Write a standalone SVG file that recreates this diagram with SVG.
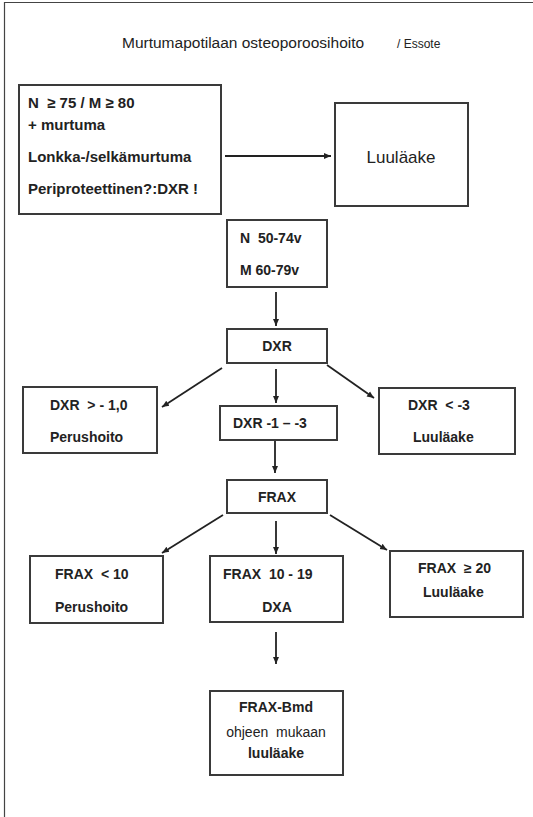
<svg xmlns="http://www.w3.org/2000/svg" width="533" height="817" viewBox="0 0 533 817">
<defs>
<marker id="ah" markerUnits="userSpaceOnUse" markerWidth="8" markerHeight="8" viewBox="0 0 8 8" refX="7" refY="4" orient="auto">
<path d="M0,1 L7,4 L0,7 Z" fill="#222"/>
</marker>
<style>
.box{fill:#fff;stroke:#3a3a3a;stroke-width:2}
.t{font-family:"Liberation Sans",Arial,sans-serif;font-size:14px;font-weight:bold;fill:#222;white-space:pre}
.n{font-weight:normal}
.c{text-anchor:middle}
.ln{stroke:#222;stroke-width:1.8;fill:none;marker-end:url(#ah)}
</style>
</defs>
<rect width="533" height="817" fill="#fff"/>
<path d="M4.5,817 V2.5 H533" fill="none" stroke="#444" stroke-width="1.2"/>
<g id="title">
<text class="t n" x="122" y="48" style="font-size:15.5px">Murtumapotilaan osteoporoosihoito</text>
<text class="t n" x="397" y="48" style="font-size:12px">/ Essote</text>
</g>
<g id="connectors">
<line class="ln" x1="225" y1="156" x2="331" y2="156"/>
<line class="ln" x1="276" y1="292" x2="276" y2="326"/>
<line class="ln" x1="222" y1="368" x2="162" y2="407"/>
<line class="ln" x1="276" y1="369" x2="276" y2="403"/>
<line class="ln" x1="327" y1="365" x2="374" y2="398"/>
<line class="ln" x1="275" y1="440" x2="275" y2="473"/>
<line class="ln" x1="223" y1="515" x2="162" y2="553"/>
<line class="ln" x1="276" y1="521" x2="276" y2="554"/>
<line class="ln" x1="330" y1="515" x2="387" y2="550"/>
<line class="ln" x1="276" y1="632" x2="276" y2="664"/>
</g>
<g id="n1">
<rect class="box" x="19" y="85" width="202" height="129"/>
<text class="t" x="28" y="108" style="font-size:15px">N  ≥ 75 / M ≥ 80</text>
<text class="t" x="28" y="130" style="font-size:15px">+ murtuma</text>
<text class="t" x="28" y="162" style="font-size:15px">Lonkka-/selkämurtuma</text>
<text class="t" x="28" y="194" style="font-size:15px">Periproteettinen?:DXR !</text>
</g>
<g id="n2">
<rect class="box" x="335" y="103" width="133" height="103"/>
<text class="t n c" x="401" y="163" style="font-size:17px">Luuläake</text>
</g>
<g id="n3">
<rect class="box" x="227" y="220" width="100" height="67"/>
<text class="t" x="240" y="243">N  50-74v</text>
<text class="t" x="240" y="275">M 60-79v</text>
</g>
<g id="n4">
<rect class="box" x="227" y="329" width="100" height="34"/>
<text class="t c" x="277" y="351">DXR</text>
</g>
<g id="n5">
<rect class="box" x="23" y="387" width="134" height="66"/>
<text class="t" x="50" y="410">DXR  &gt; - 1,0</text>
<text class="t" x="50" y="442">Perushoito</text>
</g>
<g id="n6">
<rect class="box" x="220" y="406" width="117" height="34"/>
<text class="t" x="233" y="428">DXR -1 – -3</text>
</g>
<g id="n7">
<rect class="box" x="379" y="388" width="136" height="66"/>
<text class="t" x="408" y="410">DXR  &lt; -3</text>
<text class="t" x="413" y="442">Luuläake</text>
</g>
<g id="n8">
<rect class="box" x="227" y="480" width="100" height="33"/>
<text class="t c" x="277" y="502">FRAX</text>
</g>
<g id="n9">
<rect class="box" x="30" y="556" width="133" height="67"/>
<text class="t" x="55" y="579">FRAX  &lt; 10</text>
<text class="t" x="55" y="612">Perushoito</text>
</g>
<g id="n10">
<rect class="box" x="210" y="556" width="133" height="66"/>
<text class="t" x="223" y="579">FRAX  10 - 19</text>
<text class="t c" x="277" y="612">DXA</text>
</g>
<g id="n11">
<rect class="box" x="390" y="551" width="133" height="66"/>
<text class="t" x="418" y="573">FRAX  ≥ 20</text>
<text class="t" x="423" y="597">Luuläake</text>
</g>
<g id="n12">
<rect class="box" x="210" y="691" width="133" height="84"/>
<text class="t c" x="276" y="712">FRAX-Bmd</text>
<text class="t n c" x="276" y="737">ohjeen  mukaan</text>
<text class="t c" x="276" y="758">luuläake</text>
</g>
</svg>
